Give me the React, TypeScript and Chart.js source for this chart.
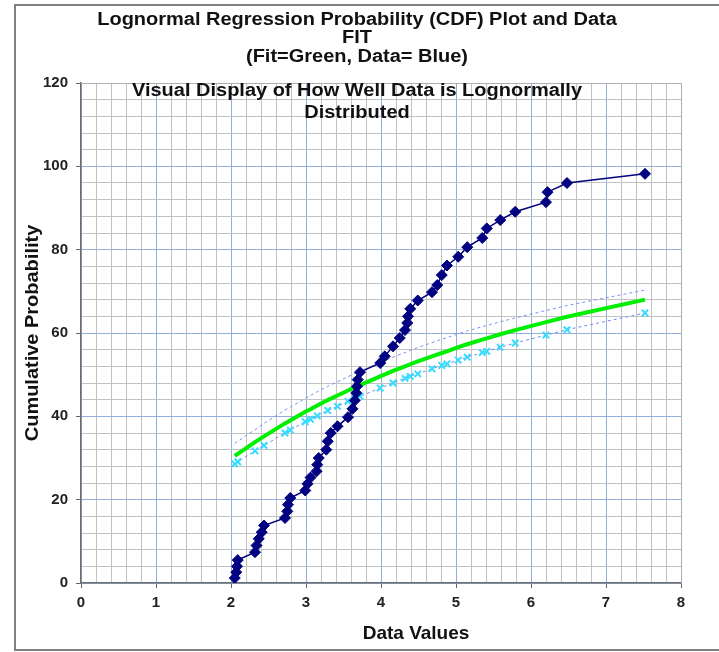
import React, { useEffect, useRef } from "react";
import { Chart, registerables } from "chart.js";

Chart.register(...registerables);

// ---- Text ----
const titleLines = [
  "Lognormal Regression Probability (CDF) Plot and Data",
  "FIT",
  "(Fit=Green, Data= Blue)",
  "Visual Display of How Well Data is Lognormally",
  "Distributed",
];
const xAxisTitle = "Data Values";
const yAxisTitle = "Cumulative Probability";

// ---- Data (navy diamonds) ----
const dataX = [
  2.05, 2.07, 2.08, 2.09,
  2.32, 2.34, 2.37, 2.41, 2.44,
  2.72, 2.75, 2.76, 2.79,
  2.99, 3.02, 3.06, 3.14, 3.15, 3.17,
  3.27, 3.29, 3.33, 3.42, 3.56, 3.62, 3.65, 3.67, 3.68, 3.69, 3.72,
  3.99, 4.05, 4.16, 4.25, 4.32, 4.35, 4.36, 4.39, 4.49, 4.68, 4.75, 4.81, 4.88,
  5.03, 5.15, 5.35, 5.41, 5.59, 5.79, 6.2, 6.22, 6.48, 7.52,
];
const dataY = [
  1.2, 2.6, 4.0, 5.5,
  7.4, 9.0, 10.6, 12.2, 13.8,
  15.6, 17.2, 18.8, 20.4,
  22.2, 23.8, 25.3, 26.8, 28.4, 30.0,
  32.0, 34.0, 36.0, 37.6, 39.8, 41.8, 43.8, 45.6, 47.2, 48.8, 50.6,
  52.8, 54.4, 56.8, 58.8, 60.7, 62.4, 64.0, 65.8, 67.8, 69.8, 71.5, 73.9, 76.2,
  78.3, 80.6, 82.8, 85.1, 87.1, 89.1, 91.4, 93.8, 96.0, 98.2,
];

// ---- Fit and bounds ----
const bandX = [
  2.05, 2.09, 2.32, 2.44, 2.72, 2.79, 2.99, 3.06, 3.15, 3.29, 3.42, 3.56, 3.65, 3.72,
  3.99, 4.16, 4.32, 4.39, 4.49, 4.68, 4.81, 4.88, 5.03, 5.15, 5.35, 5.41, 5.59, 5.79,
  6.2, 6.48, 7.52,
];
const fitY = [
  30.5, 31.0, 33.8, 35.2, 38.3, 39.0, 41.1, 41.7, 42.6, 43.9, 45.0, 46.2, 47.0, 47.5,
  49.6, 50.9, 52.0, 52.5, 53.2, 54.4, 55.2, 55.6, 56.6, 57.3, 58.4, 58.7, 59.7, 60.7,
  62.6, 63.9, 68.0,
];
const lowerY = [
  28.6, 29.1, 31.7, 33.0, 36.0, 36.7, 38.7, 39.3, 40.1, 41.4, 42.4, 43.6, 44.3, 44.8,
  46.8, 48.0, 49.1, 49.6, 50.2, 51.4, 52.2, 52.6, 53.5, 54.2, 55.3, 55.6, 56.6, 57.6,
  59.5, 60.8, 64.8,
];
const upperY = [
  33.5, 34.0, 36.8, 38.3, 41.5, 42.2, 44.3, 45.0, 45.9, 47.2, 48.3, 49.5, 50.3, 50.8,
  52.9, 54.2, 55.3, 55.8, 56.5, 57.7, 58.5, 58.9, 59.8, 60.5, 61.5, 61.8, 62.7, 63.6,
  65.4, 66.6, 70.3,
];

// ---- Axis settings ----
const xMin = 0, xMax = 8, xMinorStep = 0.2;
const yMin = 0, yMax = 120, yMinorStep = 4, yMajorStep = 20;

const pts = (xs: number[], ys: number[]) => xs.map((x, i) => ({ x, y: ys[i] }));
const isMult = (v: number, m: number) => Math.abs(v / m - Math.round(v / m)) < 1e-6;

const FONT = '"Liberation Sans", Arial, sans-serif';
const MAJOR = "#93aedb";
const MINOR = "#c2c2c2";

const stretchText = (ctx: any, t: string, x: number, y: number, sx: number) => {
  ctx.save();
  ctx.translate(x, y);
  ctx.scale(sx, 1);
  ctx.fillText(t, 0, 0);
  ctx.restore();
};

const decorPlugin = {
  id: "decor",
  beforeDraw(chart: any) {
    const ctx = chart.ctx;
    ctx.save();
    ctx.fillStyle = "#ffffff";
    ctx.fillRect(0, 0, chart.width, chart.height);
    ctx.strokeStyle = "#808080";
    ctx.lineWidth = 2;
    ctx.strokeRect(15, 5, chart.width + 20, 645);
    ctx.restore();
  },
  beforeDatasetsDraw(chart: any) {
    const { ctx, chartArea: a } = chart;
    ctx.save();
    ctx.strokeStyle = "#b0b0b0";
    ctx.lineWidth = 1;
    ctx.beginPath();
    ctx.moveTo(a.left, a.top + 0.5);
    ctx.lineTo(a.right + 0.5, a.top + 0.5);
    ctx.lineTo(a.right + 0.5, a.bottom);
    ctx.stroke();
    ctx.restore();
  },
  afterDraw(chart: any) {
    const ctx = chart.ctx;
    const a = chart.chartArea;
    ctx.save();
    ctx.fillStyle = "#111";
    ctx.textAlign = "center";
    ctx.textBaseline = "middle";
    ctx.font = `bold 18px ${FONT}`;
    const ys = [20, 38, 57, 91, 113];
    titleLines.forEach((t, i) => stretchText(ctx, t, 357, ys[i], 1.11));
    ctx.font = `bold 19px ${FONT}`;
    ctx.fillText(xAxisTitle, 416, 634);
    ctx.translate(33, (a.top + a.bottom) / 2);
    ctx.rotate(-Math.PI / 2);
    ctx.font = `bold 18px ${FONT}`;
    stretchText(ctx, yAxisTitle, 0, 0, 1.11);
    ctx.restore();
  },
};

export default function App() {
  const ref = useRef<HTMLCanvasElement | null>(null);
  useEffect(() => {
    if (!ref.current) return;
    const chart = new Chart(ref.current, {
      type: "scatter",
      data: {
        datasets: [
          {
            label: "Data",
            data: pts(dataX, dataY),
            showLine: true,
            borderColor: "#000080",
            backgroundColor: "#000080",
            borderWidth: 1.5,
            pointStyle: "rectRot",
            pointRadius: 5.5,
            pointBorderWidth: 1,
            order: 0,
          },
          {
            label: "Fit",
            data: pts(bandX, fitY),
            showLine: true,
            borderColor: "#00ee00",
            borderWidth: 4,
            pointRadius: 0,
            order: 1,
          },
          {
            label: "Lower",
            data: pts(bandX, lowerY),
            showLine: true,
            borderColor: "#6f8cf5",
            borderWidth: 1,
            borderDash: [3, 3],
            pointStyle: "crossRot",
            pointRadius: 4.5,
            pointBorderColor: "#38dcff",
            pointBorderWidth: 2,
            order: 2,
          },
          {
            label: "Upper",
            data: pts(bandX, upperY),
            showLine: true,
            borderColor: "#7893f5",
            borderWidth: 1,
            borderDash: [3, 3],
            pointRadius: 0,
            order: 3,
          },
        ],
      },
      options: {
        animation: false,
        responsive: false,
        devicePixelRatio: 1,
        layout: { padding: { left: 0, right: 38, top: 83, bottom: 0 } },
        plugins: {
          legend: { display: false },
          title: { display: false },
          tooltip: { enabled: false },
        },
        scales: {
          x: {
            type: "linear",
            min: xMin,
            max: xMax,
            afterFit: (s: any) => { s.height = 69; },
            ticks: {
              stepSize: xMinorStep,
              autoSkip: false,
              maxRotation: 0,
              padding: 6,
              color: "#222",
              font: { family: FONT, size: 15, weight: "bold" },
              callback: (v: any) => (isMult(Number(v), 1) ? String(Math.round(Number(v))) : ""),
            },
            grid: {
              color: (c: any) => (isMult(c.tick.value, 1) ? MAJOR : MINOR),
              tickColor: (c: any) => (isMult(c.tick.value, 1) ? "#666" : "rgba(0,0,0,0)"),
              tickLength: 5,
              lineWidth: 1,
            },
            border: { display: true, color: "#6e6e6e", width: 1.5 },
          },
          y: {
            type: "linear",
            min: yMin,
            max: yMax,
            afterFit: (s: any) => { s.width = 81; },
            ticks: {
              stepSize: yMinorStep,
              autoSkip: false,
              padding: 8,
              color: "#222",
              font: { family: FONT, size: 15, weight: "bold" },
              callback: (v: any) => (isMult(Number(v), yMajorStep) ? String(Math.round(Number(v))) : ""),
            },
            grid: {
              color: (c: any) => (isMult(c.tick.value, yMajorStep) ? MAJOR : MINOR),
              tickColor: (c: any) => (isMult(c.tick.value, yMajorStep) ? "#666" : "rgba(0,0,0,0)"),
              tickLength: 5,
              lineWidth: 1,
            },
            border: { display: true, color: "#6e6e6e", width: 1.5 },
          },
        },
      },
      plugins: [decorPlugin],
    });
    return () => chart.destroy();
  }, []);
  return (
    <div style={{ position: "fixed", left: 0, top: 0, width: 719, height: 652 }}>
      <canvas ref={ref} width={719} height={652} style={{ display: "block" }} />
    </div>
  );
}
